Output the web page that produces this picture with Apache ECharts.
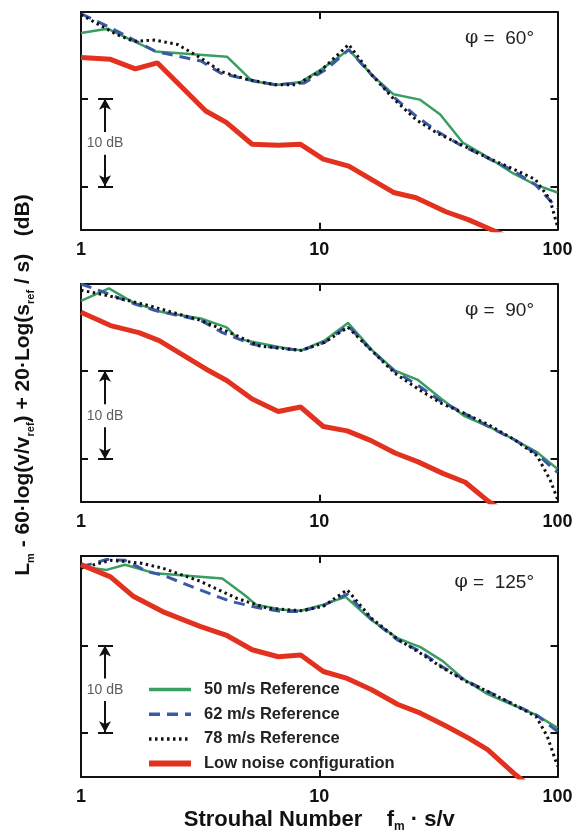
<!DOCTYPE html>
<html><head><meta charset="utf-8">
<script src="https://cdn.jsdelivr.net/npm/echarts@6/dist/echarts.min.js"></script>
<style>html,body{margin:0;padding:0;background:#fff}#c{width:576px;height:834px}</style>
</head><body><div id="c"></div>
<script>
// ---- labels ----
const xTickValues = [1, 10, 100];
const yTickValues = [10, 20];
const angleLabels = ['60°', '90°', '125°'];
const seriesNames = ['50 m/s Reference', '62 m/s Reference', '78 m/s Reference', 'Low noise configuration'];

// ---- phi = 60 ----
const g60 = [[1,27.5],[1.29,28.0],[2.05,25.4],[4.1,24.8],[5.23,22.0],[6.73,21.6],[8.35,21.9],[10.4,23.5],[13.3,25.6],[16.5,22.8],[20.5,20.5],[26.4,19.9],[32.2,18.2],[40,15.0],[50.5,13.4],[64.9,11.5],[80.6,10.2],[100,9.3]];
const b60 = [[1,29.7],[1.33,28.1],[2.06,25.4],[3.19,24.3],[3.87,22.9],[5.0,22.2],[6.48,21.6],[8.66,21.8],[10.75,23.4],[13.3,25.6],[16.5,22.8],[20.5,20.2],[25.5,18.0],[31.6,16.2],[39.2,14.7],[48.7,13.5],[64.9,11.8],[80.6,10.2],[100,7.5]];
const k60 = [[1,29.6],[1.42,27.3],[1.67,26.55],[2.03,26.7],[2.54,26.2],[3.18,24.65],[3.87,23.1],[5.0,22.2],[6.48,21.6],[8.0,21.6],[10.05,23.1],[13.3,26.2],[16.5,22.8],[20.5,20.0],[25.5,17.6],[31.6,16.0],[39.2,14.8],[48.7,13.5],[64.9,12.0],[80.6,10.8],[93,8.5],[100,5.4]];
const r60 = [[1,24.7],[1.33,24.5],[1.69,23.4],[2.09,24.1],[3.34,18.6],[4.07,17.3],[5.23,14.8],[6.73,14.7],[8.35,14.8],[10.4,13.1],[13.3,12.3],[20.5,9.3],[25.5,8.7],[34,7.1],[42.2,6.2],[52.3,5.1],[64.9,4.0]];

// ---- phi = 90 ----
const g90 = [[1,27.9],[1.31,29.3],[1.66,27.7],[2.21,26.6],[3.18,25.9],[4.09,24.9],[4.56,23.6],[7.03,22.6],[8.42,22.3],[10.5,23.4],[13.2,25.4],[16.7,22.3],[20.8,20.0],[25.8,19.0],[32.6,16.8],[40.5,14.9],[51.3,13.7],[66,12.2],[82,10.8],[100,8.9]];
const b90 = [[1,29.8],[1.24,28.9],[1.66,27.6],[2.05,26.8],[3.18,25.7],[3.92,24.3],[5.23,23.0],[7.03,22.5],[8.42,22.3],[10.5,23.2],[13.2,25.1],[16.7,22.2],[20.8,19.9],[25.8,18.4],[32.6,16.5],[40.5,15.2],[51.3,13.7],[66,12.2],[82,10.6],[100,8.5]];
const k90 = [[1,29.1],[1.29,28.5],[1.9,27.4],[3.18,25.7],[4.3,24.2],[5.6,22.8],[8.42,22.3],[10.5,23.2],[13.2,24.9],[16.7,22.2],[20.8,19.7],[25.8,18.0],[32.6,16.3],[40.5,15.2],[51.3,13.9],[66,12.2],[82,10.4],[93,7.7],[100,5.5]];
const r90 = [[1,26.6],[1.33,25.1],[1.75,24.3],[2.13,23.4],[3.34,20.2],[4.09,18.9],[5.23,16.8],[6.73,15.4],[8.35,15.9],[10.4,13.7],[13.1,13.2],[16.5,12.1],[20.8,10.7],[26,9.7],[33,8.4],[41,7.4],[51,5.3],[62,3.8]];

// ---- phi = 125 ----
const g125 = [[1,29.1],[1.28,28.7],[1.53,29.3],[2.05,28.3],[3.92,27.7],[4.86,25.8],[5.42,24.7],[6.98,24.1],[8.36,24.0],[10.4,24.7],[12.9,25.6],[16.6,22.9],[21.4,20.8],[26.6,19.8],[33,18.2],[40,16.2],[50.9,14.4],[65.5,13.1],[81.4,12.0],[100,10.5]];
const b125 = [[1,29.1],[1.11,29.4],[1.28,29.9],[1.53,29.8],[1.9,28.5],[2.2,28.1],[3.16,26.4],[4.21,25.1],[5.62,24.3],[6.98,23.9],[8.36,23.9],[10.4,24.6],[13.1,25.9],[16.6,23.0],[21.4,20.6],[26.6,19.3],[33,17.5],[41,16.0],[50.9,14.7],[65.5,13.2],[81.4,12.0],[100,10.1]];
const k125 = [[1,28.9],[1.33,29.8],[1.77,29.5],[2.2,28.9],[3.16,27.4],[4.53,25.4],[6.04,24.3],[8.36,24.0],[10.4,24.5],[13.1,26.4],[16.6,23.1],[21.4,20.7],[26.6,19.1],[33,17.4],[41,15.9],[50.9,14.7],[65.5,13.2],[81.4,11.8],[90.7,9.5],[100,6.1]];
const r125 = [[1,29.3],[1.33,27.9],[1.65,25.7],[2.2,23.9],[3.16,22.2],[4.06,21.2],[5.23,19.5],[6.73,18.7],[8.36,18.9],[10.4,17.0],[13.1,16.2],[16.6,14.9],[21.4,13.2],[26.6,12.2],[34.2,10.7],[42.5,9.3],[50.9,8.0],[66.7,5.1],[75,4.0]];

// ---- 10 dB scale bar (data units) ----
const barX = 1.261, barL = 1.179, barR = 1.363;
const barLow = 10, barHigh = 20, barGapLow = 13.6, barGapHigh = 16.2, barTextY = 14.9;

const panels = [
  {g: g60, b: b60, k: k60, r: r60},
  {g: g90, b: b90, k: k90, r: r90},
  {g: g125, b: b125, k: k125, r: r125}
];

const tops = [12, 284, 556];
const heights = [217.7, 217.7, 222.7];
const yMins = [5.05, 5.2, 4.85];
const yMaxs = [29.9, 29.8, 30.3];

const FONT = 'Liberation Sans, Arial, Helvetica, sans-serif';
const styles = [
  {color: '#3a9e62', width: 2.5, type: 'solid'},
  {color: '#3b5aa5', width: 3, type: [11, 7]},
  {color: '#111111', width: 3, type: [2.5, 3.5]},
  {color: '#e2321f', width: 5, type: 'solid'}
];
const legendWidths = [3.5, 3.5, 3.5, 6];

const grid = [], xAxis = [], yAxis = [], series = [], title = [];
const frame = {lineStyle: {color: '#111', width: 2}, onZero: false};

panels.forEach((p, i) => {
  grid.push({left: 81, right: 18.5, top: tops[i], height: heights[i]});
  xAxis.push({
    type: 'log', logBase: 10, min: 1, max: 100, gridIndex: i, position: 'bottom',
    axisLine: frame,
    axisTick: {show: true, inside: true, length: 7, lineStyle: {color: '#111', width: 2}},
    axisLabel: {show: true, fontSize: 18, fontWeight: 'bold', color: '#111', margin: 11, fontFamily: FONT},
    splitLine: {show: false}, minorTick: {show: false},
    name: i === 2 ? '{a|Strouhal Number}{a|    f}{s|m}{a| · s/v}' : '',
    nameLocation: 'middle', nameGap: 30,
    nameTextStyle: {rich: {
      a: {fontSize: 22, fontWeight: 'bold', color: '#111', fontFamily: FONT, lineHeight: 26, verticalAlign: 'middle'},
      s: {fontSize: 12, fontWeight: 'bold', color: '#111', fontFamily: FONT, verticalAlign: 'bottom', lineHeight: 13}
    }}
  });
  xAxis.push({
    type: 'log', logBase: 10, min: 1, max: 100, gridIndex: i, position: 'top',
    axisLine: frame,
    axisTick: {show: true, inside: true, length: 7, lineStyle: {color: '#111', width: 2}},
    axisLabel: {show: false}, splitLine: {show: false}, minorTick: {show: false}
  });
  ['left', 'right'].forEach(pos => {
    yAxis.push({
      type: 'value', gridIndex: i, position: pos, min: yMins[i], max: yMaxs[i],
      axisLine: {show: true, lineStyle: {color: '#111', width: 2}, onZero: false},
      axisTick: {show: true, inside: true, length: 7, customValues: yTickValues, lineStyle: {color: '#111', width: 2}},
      axisLabel: {show: false}, splitLine: {show: false}
    });
  });
  const xi = 2 * i, yi = 2 * i;
  [p.g, p.b, p.k, p.r].forEach((d, j) => {
    series.push({
      name: seriesNames[j], type: 'line', xAxisIndex: xi, yAxisIndex: yi,
      data: d, showSymbol: false, symbol: 'none', clip: true, silent: true,
      lineStyle: styles[j], itemStyle: {color: styles[j].color}, z: 2 + j
    });
  });
  // scale bar
  series.push({
    name: 'scale' + i, type: 'line', xAxisIndex: xi, yAxisIndex: yi,
    data: [], silent: true,
    markLine: {
      silent: true, animation: false, symbol: ['none', 'none'],
      lineStyle: {color: '#111', width: 2, type: 'solid'},
      label: {show: false},
      data: [
        [{coord: [barX, barGapHigh], symbol: 'none'}, {coord: [barX, barHigh], symbol: 'arrow', symbolSize: [9, 11]}],
        [{coord: [barX, barGapLow], symbol: 'none'}, {coord: [barX, barLow], symbol: 'arrow', symbolSize: [9, 11]}],
        [{coord: [barL, barHigh], symbol: 'none'}, {coord: [barR, barHigh], symbol: 'none'}],
        [{coord: [barL, barLow], symbol: 'none'}, {coord: [barR, barLow], symbol: 'none'}]
      ]
    }
  });
  series.push({
    name: 'scaleText' + i, type: 'scatter', xAxisIndex: xi, yAxisIndex: yi,
    data: [[barX, barTextY]], symbolSize: 1, silent: true,
    itemStyle: {color: 'rgba(0,0,0,0)'},
    label: {show: true, formatter: '10 dB', position: 'inside', fontSize: 14, color: '#333', fontFamily: FONT}
  });
  title.push({
    text: '{p|φ}{t| =  ' + angleLabels[i] + '}',
    right: 37, top: tops[i] + 12,
    textStyle: {fontWeight: 'normal', rich: {
      p: {fontFamily: 'DejaVu Serif, serif', fontSize: 19, fontWeight: 'normal', color: '#222'},
      t: {fontFamily: FONT, fontSize: 19, fontWeight: 'normal', color: '#222'}
    }}
  });
});

const option = {
  animation: false,
  backgroundColor: '#fff',
  textStyle: {fontFamily: FONT},
  title: title,
  grid: grid, xAxis: xAxis, yAxis: yAxis, series: series,
  legend: {
    data: seriesNames.map((n, j) => ({name: n, lineStyle: {width: legendWidths[j]}})),
    orient: 'vertical', left: 146, top: 681, padding: 0,
    itemWidth: 42, itemHeight: 14, itemGap: 7.7, selectedMode: false,
    itemStyle: {opacity: 0, color: 'rgba(0,0,0,0)', borderWidth: 0},
    textStyle: {fontSize: 16.5, fontWeight: 'bold', color: '#222', fontFamily: FONT, padding: [0, 0, 0, 8]}
  },
  graphic: [{
    type: 'text', x: 23, y: 385, rotation: Math.PI / 2,
    style: {
      text: '{a|L}{s|m}{a| - 60·log(v/v}{s|ref}{a|) + 20·Log(s}{s|ref}{a| / s)   (dB)}',
      align: 'center', verticalAlign: 'middle', textAlign: 'center', textVerticalAlign: 'middle',
      rich: {
        a: {fontSize: 21, fontWeight: 'bold', fill: '#111', fontFamily: FONT, lineHeight: 26, verticalAlign: 'middle'},
        s: {fontSize: 11, fontWeight: 'bold', fill: '#111', fontFamily: FONT, lineHeight: 13, verticalAlign: 'bottom'}
      }
    }
  }]
};

const chart = echarts.init(document.getElementById('c'), null, {renderer: 'canvas'});
chart.setOption(option);
</script>
</body></html>
